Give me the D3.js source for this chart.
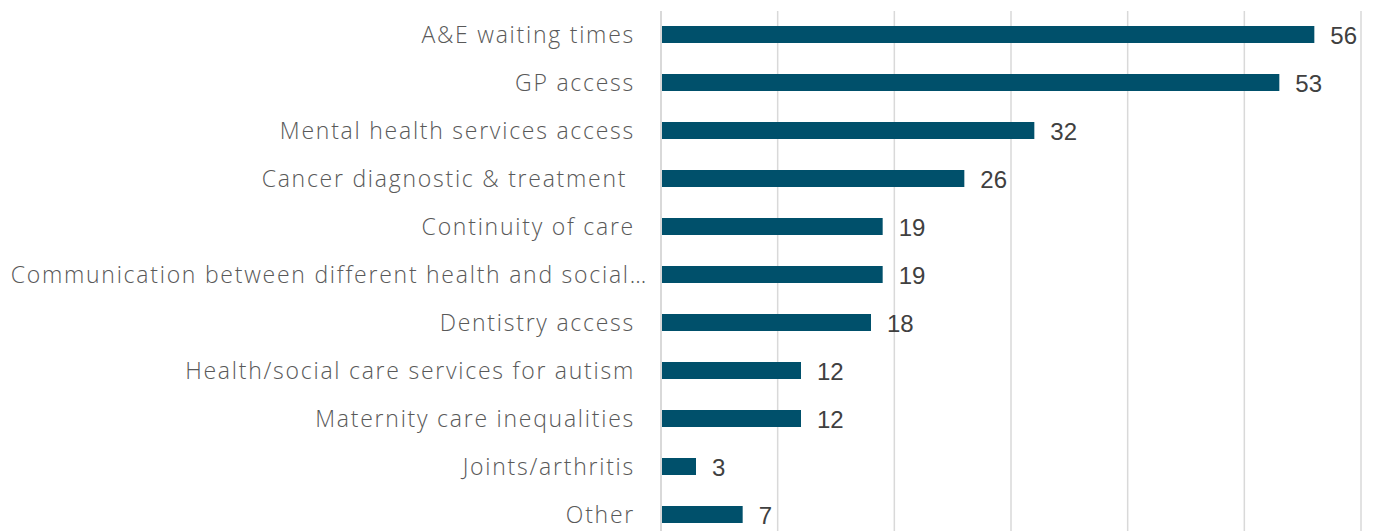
<!DOCTYPE html>
<html><head><meta charset="utf-8">
<script src="https://cdn.jsdelivr.net/npm/d3@7"></script>
<style>
html,body{margin:0;padding:0;background:#fff;}
svg{display:block;}
text{white-space:pre;}
</style></head>
<body>
<svg id="chart" width="1373" height="531"></svg>
<script>
const categories = ["A&E waiting times","GP access","Mental health services access","Cancer diagnostic & treatment ","Continuity of care","Communication between different health and social…","Dentistry access","Health/social care services for autism","Maternity care inequalities","Joints/arthritis","Other"];
const values = [56,53,32,26,19,19,18,12,12,3,7];
const xTicks = [0,10,20,30,40,50,60];

const svg = d3.select("#chart");
const x = d3.scaleLinear().domain([0,60]).range([661,1361]);
const y = d3.scaleBand().domain(categories).range([10.5, 10.5+11*48]).paddingInner(31/48).paddingOuter(31/96);

// gridlines
svg.append("g").selectAll("line").data(xTicks).join("line")
  .attr("x1",d=>x(d)).attr("x2",d=>x(d)).attr("y1",11).attr("y2",531)
  .attr("stroke","#d9d9d9").attr("stroke-width",d=>d===0?2:1.5);

// bars
svg.append("g").selectAll("rect").data(values).join("rect")
  .attr("x",x(0)+1).attr("y",(d,i)=>y(categories[i]))
  .attr("width",d=>x(d)-x(0)-1).attr("height",y.bandwidth())
  .attr("fill","#00506b");

// value labels
svg.append("g").selectAll("text").data(values).join("text")
  .attr("x",d=>x(d)+16).attr("y",(d,i)=>y(categories[i])+y.bandwidth()/2+1.5)
  .attr("dy","0.35em")
  .attr("font-family","'Liberation Sans', Arial, sans-serif").attr("font-size",24)
  .attr("fill","#404040").text(d=>d);

// category labels
svg.append("g").selectAll("text").data(categories).join("text")
  .attr("x",d=>d.endsWith("…")?648:635).attr("y",d=>y(d)+y.bandwidth()/2)
  .attr("dy","0.35em").attr("text-anchor","end")
  .attr("font-family","'Open Sans', sans-serif").attr("font-weight",300).attr("font-size",23)
  .attr("letter-spacing","1.75px")
  .attr("fill","#595959").text(d=>d);
</script>
</body></html>
